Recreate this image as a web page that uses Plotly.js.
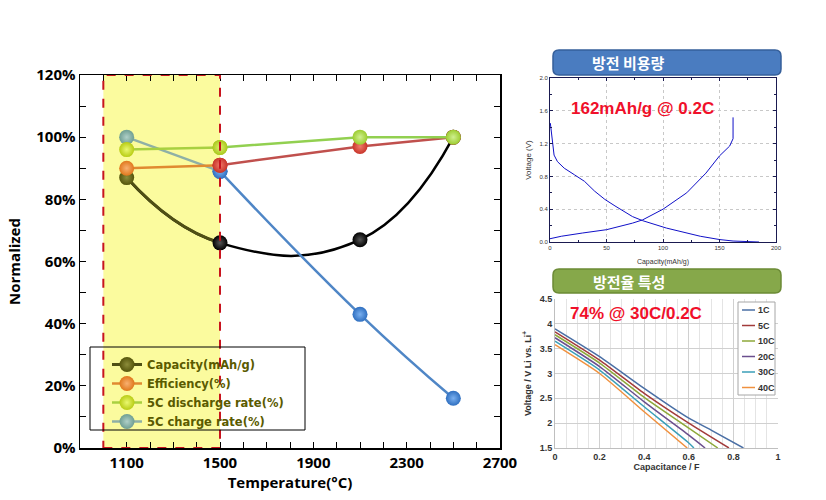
<!DOCTYPE html>
<html><head><meta charset="utf-8">
<script src="https://cdn.plot.ly/plotly-3.0.1.min.js"></script>
<style>html,body{margin:0;padding:0;background:#fff}#chart{width:826px;height:500px}</style>
</head><body><div id="chart"></div>
<script>
// ---------- Main chart data ----------
const temps = [1100, 1500, 2100, 2500];
const capacity = [0.87, 0.66, 0.67, 1.00];
const efficiency = [0.90, 0.91, 0.97, 1.00];
const discharge5C = [0.96, 0.967, 1.00, 1.00];
const charge5C = [1.00, 0.89, 0.43, 0.16];
const seriesNames = ['Capacity(mAh/g)', 'Efficiency(%)', '5C discharge rate(%)', '5C charge rate(%)'];
const highlightRange = [1000, 1500];
const tempTicks = [1100, 1500, 1900, 2300, 2700];

// ---------- Top-right (방전 비용량) data ----------
const chgCap = [0, 10, 29, 50, 73, 82, 100, 121, 138, 150, 159, 161.5, 162, 162];
const chgV = [0.04, 0.07, 0.11, 0.15, 0.23, 0.27, 0.40, 0.60, 0.84, 1.05, 1.17, 1.23, 1.26, 1.52];
const disCap = [0.3, 1.2, 3.6, 6.6, 12.6, 21.6, 30.5, 39.5, 48.5, 57.5, 73, 82, 103, 133, 150, 162, 175, 185];
const disV = [1.45, 1.34, 1.06, 0.98, 0.90, 0.82, 0.74, 0.62, 0.52, 0.44, 0.31, 0.26, 0.17, 0.07, 0.03, 0.012, 0.006, 0.0];

// ---------- Bottom-right (방전율 특성) data ----------
const rateNames = ['1C', '5C', '10C', '20C', '30C', '40C'];
const rateX = [
  [0, 0.2, 0.4, 0.6, 0.7, 0.845],
  [0, 0.2, 0.4, 0.6, 0.78],
  [0, 0.2, 0.4, 0.6, 0.73],
  [0, 0.2, 0.4, 0.6, 0.673],
  [0, 0.2, 0.4, 0.6, 0.623],
  [0, 0.2, 0.4, 0.593]
];
const rateV = [
  [3.90, 3.34, 2.70, 2.10, 1.86, 1.50],
  [3.84, 3.27, 2.60, 2.00, 1.50],
  [3.78, 3.21, 2.52, 1.90, 1.50],
  [3.72, 3.14, 2.43, 1.76, 1.50],
  [3.65, 3.07, 2.33, 1.60, 1.50],
  [3.58, 3.00, 2.23, 1.50]
];

// ---------- styles ----------
const W = 826, H = 500;
const px = x => x / W, py = y => 1 - y / H;
const boldFont = 'Open Sans, Liberation Sans, Arial, sans-serif';
const arial = 'Liberation Sans, Arial, sans-serif';
const dejavu = 'DejaVu Sans, Liberation Sans, sans-serif';
const kr = 'Noto Sans CJK KR, sans-serif';
const rateColors = ['#4a6fa5', '#a23b3b', '#8ea83a', '#6b4f8e', '#3b9fb8', '#f0913f'];

const styles = [
  {line1: '#4f4f14', line2: '#000000', edge: ['#55550c', '#000000', '#000000', '#000000'], center: ['#8c8c3a', '#555555', '#555555', '#555555']},
  {line1: '#e08a30', line2: '#c0504d', edge: ['#e0781c', '#c8342a', '#c8342a', '#c8342a'], center: ['#f8b070', '#f07a6a', '#f07a6a', '#f07a6a']},
  {line1: '#a8d040', line2: '#92d050', edge: ['#b8cc14', '#a8c81c', '#9ccc30', '#9ccc30'], center: ['#eaf870', '#e0f070', '#d0f090', '#d0f090']},
  {line1: '#8fb0a6', line2: '#4f86c6', edge: ['#6f9e92', '#2f6fc0', '#2f6fc0', '#2f6fc0'], center: ['#b0d0c8', '#7ab0f0', '#7ab0f0', '#7ab0f0']}
];
const seriesData = [capacity, efficiency, discharge5C, charge5C];

const traces = [];
// Capacity: a black smoothed line through all points, with the first segment recoloured olive
traces.push({
  type: 'scatter', mode: 'lines', showlegend: false, x: temps, y: capacity, xaxis: 'x', yaxis: 'y',
  line: {color: styles[0].line2, width: 2.5, shape: 'spline', smoothing: 1.3}, hoverinfo: 'skip'
});
traces.push({
  type: 'scatter', mode: 'lines+markers', name: seriesNames[0], legendrank: 1,
  x: temps, y: capacity, xaxis: 'x', yaxis: 'y',
  line: {color: styles[0].line1, width: 3, shape: 'spline', smoothing: 1.3, dash: '115px,3000px'},
  marker: {size: 15, color: styles[0].edge, gradient: {type: 'radial', color: styles[0].center}, line: {width: 0}}
});

[3, 1, 2].forEach(i => {
  const st = styles[i], ys = seriesData[i];
  traces.push({
    type: 'scatter', mode: 'lines+markers', name: seriesNames[i], legendrank: i + 1,
    x: temps.slice(0, 2), y: ys.slice(0, 2), xaxis: 'x', yaxis: 'y',
    line: {color: st.line1, width: 2.5},
    marker: {size: 15, color: st.edge.slice(0, 2), gradient: {type: 'radial', color: st.center.slice(0, 2)}, line: {width: 0}}
  });
  traces.push({
    type: 'scatter', mode: 'lines+markers', name: seriesNames[i], showlegend: false,
    x: temps.slice(1), y: ys.slice(1), xaxis: 'x', yaxis: 'y',
    line: {color: st.line2, width: 2.5, shape: i === 3 ? 'spline' : 'linear', smoothing: 1.3},
    marker: {size: 15, color: st.edge.slice(1), gradient: {type: 'radial', color: st.center.slice(1)}, line: {width: 0}}
  });
});

// top-right curves
traces.push({type: 'scatter', mode: 'lines', x: chgCap, y: chgV, xaxis: 'x2', yaxis: 'y2', showlegend: false,
  line: {color: '#1010c8', width: 1}});
traces.push({type: 'scatter', mode: 'lines', x: disCap, y: disV, xaxis: 'x2', yaxis: 'y2', showlegend: false,
  line: {color: '#1010c8', width: 1}});

// bottom-right curves
rateNames.forEach((n, k) => {
  traces.push({type: 'scatter', mode: 'lines', name: n, x: rateX[k], y: rateV[k], xaxis: 'x3', yaxis: 'y3',
    showlegend: false, line: {color: rateColors[k], width: 1.5, shape: 'spline', smoothing: 0.6}});
});

function rr(x0, y0, x1, y1, r) {
  const X = v => px(v).toFixed(5), Y = v => py(v).toFixed(5);
  return `M ${X(x0 + r)} ${Y(y0)} L ${X(x1 - r)} ${Y(y0)} Q ${X(x1)} ${Y(y0)} ${X(x1)} ${Y(y0 + r)} ` +
    `L ${X(x1)} ${Y(y1 - r)} Q ${X(x1)} ${Y(y1)} ${X(x1 - r)} ${Y(y1)} L ${X(x0 + r)} ${Y(y1)} ` +
    `Q ${X(x0)} ${Y(y1)} ${X(x0)} ${Y(y1 - r)} L ${X(x0)} ${Y(y0 + r)} Q ${X(x0)} ${Y(y0)} ${X(x0 + r)} ${Y(y0)} Z`;
}

const shapes = [
  {type: 'rect', xref: 'x', yref: 'y', x0: highlightRange[0], x1: highlightRange[1], y0: 0, y1: 1.2,
    fillcolor: '#fbfb9e', line: {width: 0}, layer: 'below'},
  {type: 'rect', xref: 'x', yref: 'y', x0: highlightRange[0], x1: highlightRange[1], y0: 0, y1: 1.2,
    fillcolor: 'rgba(0,0,0,0)', line: {color: '#c8141e', width: 2, dash: 'dash'}, layer: 'above'},
  {type: 'rect', xref: 'paper', yref: 'paper', x0: px(90), x1: px(305), y0: py(430), y1: py(347),
    fillcolor: 'rgba(0,0,0,0)', line: {color: '#000', width: 1}, layer: 'above'},
  {type: 'path', xref: 'paper', yref: 'paper', path: rr(553, 50, 781, 75, 6),
    fillcolor: '#4a7cc0', line: {color: '#355f9a', width: 1.5}},
  {type: 'path', xref: 'paper', yref: 'paper', path: rr(553, 269, 781, 293, 6),
    fillcolor: '#86a84a', line: {color: '#6b8a35', width: 1.5}},
  {type: 'rect', xref: 'paper', yref: 'paper', x0: px(738), x1: px(775), y0: py(395), y1: py(302),
    fillcolor: '#ffffff', line: {color: '#a6a6a6', width: 1}, layer: 'above'}
];
const annotations = [
  {text: '방전 비용량', xref: 'paper', yref: 'paper', x: px(667), y: py(62), yanchor: 'middle', showarrow: false,
    font: {family: kr, size: 15, color: '#ffffff', weight: 'bold'}},
  {text: '방전율 특성', xref: 'paper', yref: 'paper', x: px(667), y: py(281), yanchor: 'middle', showarrow: false,
    font: {family: kr, size: 15, color: '#ffffff', weight: 'bold'}},
  {text: '162mAh/g @ 0.2C', xref: 'paper', yref: 'paper', x: px(569), y: py(97), xanchor: 'left', showarrow: false,
    font: {family: arial, size: 17, color: '#f0102a', weight: 'bold'}},
  {text: '74% @ 30C/0.2C', xref: 'paper', yref: 'paper', x: px(568), y: py(313), xanchor: 'left', showarrow: false,
    font: {family: arial, size: 17, color: '#f0102a', weight: 'bold'}}
];
rateNames.forEach((n, k) => {
  const yy = 310 + k * 15.5;
  shapes.push({type: 'line', xref: 'paper', yref: 'paper', x0: px(742), x1: px(755), y0: py(yy), y1: py(yy),
    line: {color: rateColors[k], width: 1.5}, layer: 'above'});
  annotations.push({text: n, xref: 'paper', yref: 'paper', x: px(756), y: py(yy), xanchor: 'left', yanchor: 'middle',
    showarrow: false, font: {family: arial, size: 9, color: '#333', weight: 'bold'}});
});

const layout = {
  width: W, height: H,
  margin: {l: 0, r: 0, t: 0, b: 0},
  paper_bgcolor: '#ffffff', plot_bgcolor: 'rgba(0,0,0,0)',
  showlegend: true,
  legend: {
    x: px(107), y: py(350), xanchor: 'left', yanchor: 'top',
    bgcolor: 'rgba(0,0,0,0)', borderwidth: 0, tracegroupgap: 0,
    font: {family: dejavu, size: 11.5, color: '#5a5a00', weight: 'bold'}
  },
  xaxis: {
    domain: [px(80), px(500)], anchor: 'y', range: [900, 2700],
    tickvals: tempTicks, ticks: 'inside', ticklen: 6, tickcolor: '#000',
    minor: {dtick: 100, tick0: 900, ticks: 'inside', ticklen: 6, tickcolor: '#000'},
    showline: true, linecolor: '#000', linewidth: 1.5, mirror: 'ticks', showgrid: false, zeroline: false,
    tickfont: {family: boldFont, size: 15, color: '#000', weight: 'bold'},
    title: {text: 'Temperature(°C)', font: {family: boldFont, size: 15, color: '#000', weight: 'bold'}, standoff: 6}
  },
  yaxis: {
    domain: [1 - 448 / H, 1 - 75 / H], anchor: 'x', range: [0, 1.2],
    dtick: 0.2, tickformat: '.0%', ticks: 'inside', ticklen: 6, tickcolor: '#000',
    minor: {dtick: 0.1, ticks: 'inside', ticklen: 6, tickcolor: '#000'},
    showline: true, linecolor: '#000', linewidth: 1.5, mirror: 'ticks', showgrid: false, zeroline: false,
    tickfont: {family: boldFont, size: 15, color: '#000', weight: 'bold'},
    title: {text: 'Normalized', font: {family: boldFont, size: 15, color: '#000', weight: 'bold'}, standoff: 12}
  },
  xaxis2: {
    domain: [px(550), px(776)], anchor: 'y2', range: [0, 200], dtick: 50,
    ticks: 'inside', ticklen: 3, tickcolor: '#1a1a50',
    minor: {dtick: 25, ticks: 'inside', ticklen: 2, tickcolor: '#1a1a50'},
    showline: true, linecolor: '#1a1a50', linewidth: 1, mirror: 'ticks',
    showgrid: true, gridcolor: '#c8c8c8', griddash: 'dot', gridwidth: 1, zeroline: false,
    tickfont: {family: arial, size: 6, color: '#333'},
    title: {text: 'Capacity(mAh/g)', font: {family: arial, size: 7, color: '#333'}, standoff: 8}
  },
  yaxis2: {
    domain: [1 - 242 / H, 1 - 78 / H], anchor: 'x2', range: [0, 2.0], dtick: 0.4, tickformat: '.1f',
    ticks: 'inside', ticklen: 3, tickcolor: '#1a1a50',
    minor: {dtick: 0.2, ticks: 'inside', ticklen: 2, tickcolor: '#1a1a50'},
    showline: true, linecolor: '#1a1a50', linewidth: 1, mirror: 'ticks',
    showgrid: true, gridcolor: '#c8c8c8', griddash: 'dot', gridwidth: 1, zeroline: false,
    tickfont: {family: arial, size: 6, color: '#333'},
    title: {text: 'Voltage (V)', font: {family: arial, size: 8, color: '#333'}, standoff: 6}
  },
  xaxis3: {
    domain: [px(555), px(778)], anchor: 'y3', range: [0, 1], dtick: 0.2,
    showline: true, linecolor: '#bfbfbf', linewidth: 1, ticks: '', zeroline: false,
    showgrid: true, gridcolor: '#d0d0d0', gridwidth: 1,
    minor: {dtick: 0.05, showgrid: true, gridcolor: '#e4e4e4', gridwidth: 1},
    tickfont: {family: arial, size: 9, color: '#333', weight: 'bold'},
    title: {text: 'Capacitance / F', font: {family: arial, size: 9, color: '#333', weight: 'bold'}, standoff: 2}
  },
  yaxis3: {
    domain: [1 - 448 / H, 1 - 299 / H], anchor: 'x3', range: [1.5, 4.5], dtick: 0.5,
    showline: true, linecolor: '#bfbfbf', linewidth: 1, ticks: '', zeroline: false,
    showgrid: true, gridcolor: '#d0d0d0', gridwidth: 1,
    tickfont: {family: arial, size: 9, color: '#333', weight: 'bold'},
    title: {text: 'Voltage / V Li vs. Li<sup>+</sup>', font: {family: arial, size: 9, color: '#333', weight: 'bold'}, standoff: 6}
  },
  shapes: shapes,
  annotations: annotations
};

const cfg = {displayModeBar: false, staticPlot: true};
Plotly.newPlot('chart', traces, layout, cfg);
if (document.fonts && document.fonts.load) {
  document.fonts.load('bold 15px "Noto Sans CJK KR"', '방전 비용량율특성').then(() => {
    Plotly.newPlot('chart', traces, layout, cfg);
  }).catch(() => {});
}
</script></body></html>
